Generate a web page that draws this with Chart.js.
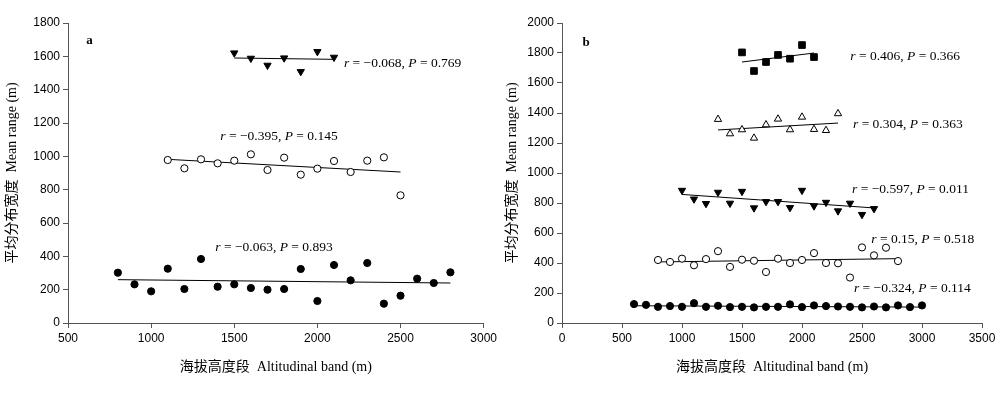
<!DOCTYPE html>
<html>
<head>
<meta charset="utf-8">
<script src="https://cdn.jsdelivr.net/npm/chart.js@4"></script>
<style>
  body { margin: 0; background: #fff; }
  .panel { position: absolute; top: 0; width: 500px; height: 393px; }
</style>
</head>
<body>
<div class="panel" style="left:0"><canvas id="chart-a" width="500" height="393"></canvas></div>
<div class="panel" style="left:500px"><canvas id="chart-b" width="500" height="393"></canvas></div>
<script>
// ---- Panel a ----
const bandsA1 = [1500, 1600, 1700, 1800, 1900, 2000, 2100];
const rangeA1 = [1620, 1588, 1546, 1590, 1508, 1628, 1594];
const fitA1 = [1590, 1582];

const bandsA2 = [1100, 1200, 1300, 1400, 1500, 1600, 1700, 1800, 1900, 2000, 2100, 2200, 2300, 2400, 2500];
const rangeA2 = [978, 928, 982, 958, 974, 1012, 918, 992, 890, 926, 972, 906, 974, 994, 766];
const fitA2 = [982, 906];

const bandsA3 = [800, 900, 1000, 1100, 1200, 1300, 1400, 1500, 1600, 1700, 1800, 1900, 2000, 2100, 2200, 2300, 2400, 2500, 2600, 2700, 2800];
const rangeA3 = [302, 232, 190, 326, 204, 384, 218, 232, 210, 200, 204, 324, 132, 348, 256, 360, 116, 164, 266, 240, 304];
const fitA3 = [260, 240];

const statsA = [
  { r: '−0.068', p: '0.769', x: 2160, y: 1560 },
  { r: '−0.395', p: '0.145', x: 1416, y: 1120 },
  { r: '−0.063', p: '0.893', x: 1386, y: 456 }
];

// ---- Panel b ----
const bandsB1 = [1500, 1600, 1700, 1800, 1900, 2000, 2100];
const rangeB1 = [1804, 1680, 1740, 1787, 1762, 1853, 1773];
const fitB1 = [1740, 1800];

const bandsB2 = [1300, 1400, 1500, 1600, 1700, 1800, 1900, 2000, 2100, 2200, 2300];
const rangeB2 = [1358, 1262, 1289, 1233, 1322, 1360, 1289, 1373, 1291, 1284, 1396];
const fitB2 = [1287, 1333];

const bandsB3 = [1000, 1100, 1200, 1300, 1400, 1500, 1600, 1700, 1800, 1900, 2000, 2100, 2200, 2300, 2400, 2500, 2600];
const rangeB3 = [884, 826, 796, 871, 798, 877, 767, 809, 809, 769, 884, 780, 804, 747, 798, 723, 762];
const fitB3 = [857, 767];

const bandsB4 = [800, 900, 1000, 1100, 1200, 1300, 1400, 1500, 1600, 1700, 1800, 1900, 2000, 2100, 2200, 2300, 2400, 2500, 2600, 2700, 2800];
const rangeB4 = [420, 407, 429, 385, 426, 479, 374, 422, 415, 340, 429, 400, 420, 466, 400, 398, 303, 504, 451, 502, 413];
const fitB4 = [407, 429];

const bandsB5 = [600, 700, 800, 900, 1000, 1100, 1200, 1300, 1400, 1500, 1600, 1700, 1800, 1900, 2000, 2100, 2200, 2300, 2400, 2500, 2600, 2700, 2800, 2900, 3000];
const rangeB5 = [126, 121, 108, 113, 108, 132, 108, 115, 106, 108, 104, 108, 108, 124, 106, 117, 113, 110, 108, 104, 110, 104, 117, 106, 117];
const fitB5 = [115, 106];

const statsB = [
  { r: '0.406', p: '0.366', x: 2403, y: 1778 },
  { r: '0.304', p: '0.363', x: 2425, y: 1326 },
  { r: '−0.597', p: '0.011', x: 2417, y: 887 },
  { r: '0.15', p: '0.518', x: 2578, y: 554 },
  { r: '−0.324', p: '0.114', x: 2433, y: 232 }
];

const yTitle = '平均分布宽度  Mean range (m)';
const xTitle = '海拔高度段  Altitudinal band (m)';
const serif = "'Liberation Serif', 'Noto Sans CJK SC', serif";
const sans = "'Liberation Sans', Arial, sans-serif";

function points(xs, ys) {
  return xs.map((x, i) => ({ x: x, y: ys[i] }));
}

function markers(xs, ys, style) {
  return Object.assign({ data: points(xs, ys), borderColor: '#000', borderWidth: 1 }, style);
}

function fitLine(xs, fit) {
  return {
    data: [{ x: xs[0], y: fit[0] }, { x: xs[xs.length - 1], y: fit[1] }],
    showLine: true, borderColor: '#000', borderWidth: 1, pointRadius: 0
  };
}

const filledCircle = { backgroundColor: '#000', pointStyle: 'circle', pointRadius: 3.6 };
const openCircle = { backgroundColor: '#fff', pointStyle: 'circle', pointRadius: 3.6 };
const downTriangle = { backgroundColor: '#000', pointStyle: 'triangle', rotation: 180, pointRadius: 4.2 };
const openTriangle = { backgroundColor: '#fff', pointStyle: 'triangle', pointRadius: 4.2 };
const filledSquare = { backgroundColor: '#000', pointStyle: 'rect', pointRadius: 4.7 };

// draws "r = .., P = .." with italic letters, plus the panel letter
const statsPlugin = {
  id: 'stats',
  afterDraw(chart, args, opts) {
    const ctx = chart.ctx;
    const xs = chart.scales.x, ys = chart.scales.y;
    ctx.save();
    ctx.fillStyle = '#000';
    ctx.textBaseline = 'middle';
    opts.items.forEach(s => {
      let px = xs.getPixelForValue(s.x);
      const py = ys.getPixelForValue(s.y);
      const parts = [['r', true], [' = ' + s.r + ', ', false], ['P', true], [' = ' + s.p, false]];
      parts.forEach(([t, it]) => {
        ctx.font = (it ? 'italic ' : '') + '13.5px ' + serif;
        ctx.fillText(t, px, py);
        px += ctx.measureText(t).width;
      });
    });
    ctx.font = 'bold 13px ' + serif;
    ctx.fillText(opts.label.text, xs.getPixelForValue(opts.label.x), ys.getPixelForValue(opts.label.y));
    ctx.restore();
  }
};

function makeChart(id, datasets, xr, yr, box, stats, label) {
  const axisCommon = {
    grid: { drawOnChartArea: false, drawTicks: true, tickLength: 5, color: '#555' },
    border: { color: '#555', width: 1 },
    ticks: { color: '#000', font: { family: sans, size: 12 }, padding: 3, callback: v => String(v) }
  };
  return new Chart(document.getElementById(id), {
    type: 'scatter',
    data: { datasets: datasets },
    options: {
      responsive: false,
      animation: false,
      layout: { padding: { top: box.top, right: box.right, left: 0, bottom: 0 } },
      plugins: { legend: { display: false }, tooltip: { enabled: false }, stats: { items: stats, label: label } },
      scales: {
        x: Object.assign({}, axisCommon, {
          type: 'linear', min: xr[0], max: xr[1],
          ticks: Object.assign({}, axisCommon.ticks, { stepSize: 500 }),
          title: { display: true, text: xTitle, color: '#000', font: { family: serif, size: 14 }, padding: { bottom: 17 } },
          afterFit: a => { a.height = box.bottom; }
        }),
        y: Object.assign({}, axisCommon, {
          min: yr[0], max: yr[1],
          ticks: Object.assign({}, axisCommon.ticks, { stepSize: 200 }),
          title: { display: true, text: yTitle, color: '#000', font: { family: serif, size: 14 }, padding: { top: 4 } },
          afterFit: a => { a.width = box.left; }
        })
      }
    },
    plugins: [statsPlugin]
  });
}

makeChart('chart-a', [
  markers(bandsA1, rangeA1, downTriangle), fitLine(bandsA1, fitA1),
  markers(bandsA2, rangeA2, openCircle), fitLine(bandsA2, fitA2),
  markers(bandsA3, rangeA3, filledCircle), fitLine(bandsA3, fitA3)
], [500, 3000], [0, 1800], { top: 23, right: 14, left: 68, bottom: 70 }, statsA, { text: 'a', x: 610, y: 1696 });

makeChart('chart-b', [
  markers(bandsB1, rangeB1, filledSquare), fitLine(bandsB1, fitB1),
  markers(bandsB2, rangeB2, openTriangle), fitLine(bandsB2, fitB2),
  markers(bandsB3, rangeB3, downTriangle), fitLine(bandsB3, fitB3),
  markers(bandsB4, rangeB4, openCircle), fitLine(bandsB4, fitB4),
  markers(bandsB5, rangeB5, filledCircle), fitLine(bandsB5, fitB5)
], [0, 3500], [0, 2000], { top: 23, right: 18, left: 62, bottom: 70 }, statsB, { text: 'b', x: 170, y: 1867 });
</script>
</body>
</html>
